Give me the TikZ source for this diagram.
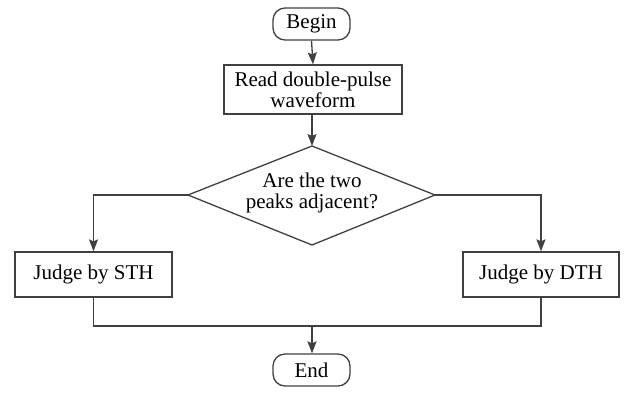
\documentclass[tikz,border=0pt]{standalone}
\usepackage{fontspec}
\setmainfont{Liberation Serif}
\usetikzlibrary{arrows.meta,shapes.misc}
\definecolor{lc}{HTML}{404040}
\begin{document}
\begin{tikzpicture}[x=1pt,y=-1pt,
  every node/.style={font=\fontsize{21}{21}\selectfont, inner sep=0pt, align=center},
  term/.style={draw=lc, line width=1.3pt, rounded corners=12pt, minimum width=77pt, minimum height=32pt},
  proc/.style={draw=lc, line width=1.3pt, rectangle},
  link/.style={draw=lc, line width=1.3pt},
  arr/.style={link, -{Stealth[length=12pt,width=9pt,inset=2pt]}}]
\useasboundingbox (0,0) rectangle (634,392);
\node[term] (begin) at (311.5,24) {Begin};
\node[proc, minimum width=178pt, minimum height=49pt] (read) at (313,89.5) {Read double-pulse\\waveform};
\coordinate (qT) at (312,146);
\coordinate (qB) at (312,245);
\coordinate (qL) at (188,195);
\coordinate (qR) at (435,195);
\draw[link, line join=miter] (qT) -- (qR) -- (qB) -- (qL) -- cycle;
\node (q) at (312,193) {Are the two\\peaks adjacent?};
\node[proc, minimum width=157pt, minimum height=45pt] (sth) at (93.5,274.5) {Judge by STH};
\node[proc, minimum width=156pt, minimum height=45pt] (dth) at (541,274.5) {Judge by DTH};
\node[term] (end) at (311.5,370) {End};
\coordinate (j) at (312,326);
\draw[arr] (begin.south) -- (read.north);
\draw[arr] (read.south -| qT) -- (qT);
\draw[arr] (qL) -| (sth.north);
\draw[arr] (qR) -| (dth.north);
\draw[link] (sth.south) |- (j) -| (dth.south);
\draw[arr] (j) -- (end.north -| j);
\end{tikzpicture}
\end{document}
